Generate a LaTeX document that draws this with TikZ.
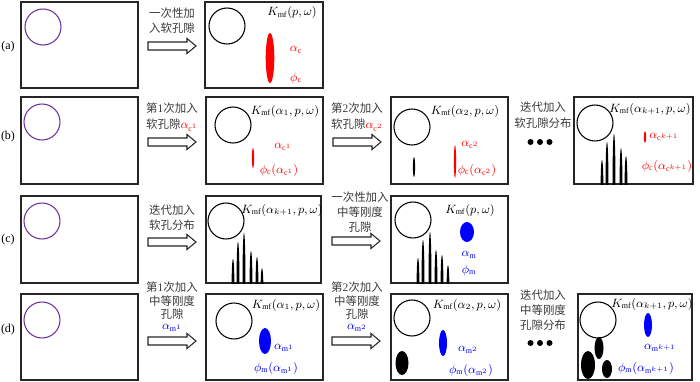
\documentclass[tikz,border=0pt]{standalone}
\usepackage{fontspec}
\setmainfont{Liberation Serif}
\newfontfamily\cjk{Noto Sans CJK SC}
\definecolor{purp}{HTML}{7030A0}
\definecolor{txtg}{HTML}{3A3A3A}
\definecolor{rd}{HTML}{FF0000}
\definecolor{bl}{HTML}{0000FF}
\begin{document}
\begin{tikzpicture}[x=0.75pt,y=-0.75pt,
  frame/.style={draw=black!85,line width=0.9pt},
  pcirc/.style={draw=purp,line width=0.8pt},
  bcirc/.style={draw=black,line width=0.8pt},
  cn/.style={font=\cjk\fontsize{8.6}{9}\selectfont,text=txtg,inner sep=0pt},
  lab/.style={font=\fontsize{9}{10}\selectfont,inner sep=0pt},
  rl/.style={font=\fontsize{9}{10}\selectfont,inner sep=0pt,text=rd},
  bll/.style={font=\fontsize{9}{10}\selectfont,inner sep=0pt,text=bl},
  barrow/.pic={\draw[line width=0.8pt,draw=black!85,fill=white] (-24,-4) -- (15,-4) -- (15,-7.5) -- (24,0) -- (15,7.5) -- (15,4) -- (-24,4) -- cycle;},
  dots/.pic={\fill (-9.5,0) circle (3); \fill (0,0) circle (3); \fill (9.5,0) circle (3);}
]
\useasboundingbox (0,0) rectangle (700,382);

% ---------- row (a)
\node[lab] (la) at (8,47) {(a)};
\draw[frame] (21,2) rectangle (138,88);
\draw[pcirc] (43,27) circle (18);
\node[cn] (ta1) at (172,13) {一次性加};
\node[cn] (ta2) at (172,28) {入软孔隙};
\pic at (172,46) {barrow};
\draw[frame] (205,2) rectangle (323,88);
\draw[bcirc] (227,26) circle (18);
\node[lab] (ka) at (292,13) {$K_{\mathrm{mf}}(p, \omega)$};
\fill[rd] (270,58) ellipse [x radius=4.3, y radius=25];
\node[rl] (aa) at (296,50) {$\alpha_{\mathrm{c}}$};
\node[rl] (pa) at (296,78) {$\phi_{\mathrm{c}}$};

% ---------- row (b)
\node[lab] (lb) at (8,137) {(b)};
\draw[frame] (21,97) rectangle (138,184);
\draw[pcirc] (42,122) circle (18);
\node[cn] (tb1) at (172,108) {第\rmfamily 1\cjk 次加入};
\node[cn] (tb2) at (172,125) {软孔隙\textcolor{rd}{$\alpha_{\mathrm{c}^1}$}};
\pic at (172,142) {barrow};
\draw[frame] (206,97) rectangle (323,184);
\draw[bcirc] (233,125) circle (18);
\node[lab] (kb1) at (285,111) {$K_{\mathrm{mf}}(\alpha_1, p, \omega)$};
\fill[rd] (253,158) ellipse [x radius=1.1, y radius=10];
\node[rl] (ab1) at (283,147) {$\alpha_{\mathrm{c}^1}$};
\node[rl] (pb1) at (279,170) {$\phi_{\mathrm{c}}(\alpha_{\mathrm{c}^1})$};
\node[cn] (tb3) at (357,108) {第\rmfamily 2\cjk 次加入};
\node[cn] (tb4) at (357,125) {软孔隙\textcolor{rd}{$\alpha_{\mathrm{c}^2}$}};
\pic at (357,142) {barrow};
\draw[frame] (391,97) rectangle (508,184);
\draw[bcirc] (412,127) circle (18);
\node[lab] (kb2) at (465,111) {$K_{\mathrm{mf}}(\alpha_2, p, \omega)$};
\fill (414,167) ellipse [x radius=1.1, y radius=10];
\fill[rd] (455,161.5) ellipse [x radius=1.1, y radius=16.5];
\node[rl] (ab2) at (470,145) {$\alpha_{\mathrm{c}^2}$};
\node[rl] (pb2) at (477,170) {$\phi_{\mathrm{c}}(\alpha_{\mathrm{c}^2})$};
\node[cn] (tb5) at (543,107) {迭代加入};
\node[cn] (tb6) at (543,123) {软孔隙分布};
\pic at (540,142) {dots};
\draw[frame] (574,97) rectangle (693,184);
\draw[bcirc] (595,123) circle (18);
\node[lab] (kb3) at (650,109) {$K_{\mathrm{mf}}(\alpha_{k+1}, p, \omega)$};
\fill[rd] (645,137) ellipse [x radius=1.1, y radius=6];
\node[rl] (ab3) at (664,137) {$\alpha_{\mathrm{c}^{k+1}}$};
\node[rl] (pb3) at (667,166) {$\phi_{\mathrm{c}}(\alpha_{\mathrm{c}^{k+1}})$};
\begin{scope}
\clip (574,97) rectangle (693,184);
\foreach \xx/\tt in {602/160,607/142,614/134,621/148,626/156}{
  \fill (\xx,{(\tt+215)/2}) ellipse [x radius=1.4, y radius={(215-\tt)/2}];
}
\end{scope}

% ---------- row (c)
\node[lab] (lc) at (8,240) {(c)};
\draw[frame] (21,196) rectangle (138,283);
\draw[pcirc] (42,221) circle (18);
\node[cn] (tc1) at (172,210) {迭代加入};
\node[cn] (tc2) at (172,225) {软孔分布};
\pic at (172,242) {barrow};
\draw[frame] (206,196) rectangle (321,283);
\draw[bcirc] (226,221) circle (18);
\node[lab] (kc1) at (282,210) {$K_{\mathrm{mf}}(\alpha_{k+1}, p, \omega)$};
\begin{scope}
\clip (206,196) rectangle (321,283);
\foreach \xx/\tt in {233/259,238/242,244/233,251/251,257/257,262/268}{
  \fill (\xx,{(\tt+312)/2}) ellipse [x radius=1.4, y radius={(312-\tt)/2}];
}
\end{scope}
\node[cn] (tc3) at (360,197) {一次性加入};
\node[cn] (tc4) at (360,212) {中等刚度};
\node[cn] (tc5) at (360,227) {孔隙};
\pic at (356,241) {barrow};
\draw[frame] (391,196) rectangle (508,283);
\draw[bcirc] (413,220) circle (18);
\node[lab] (kc2) at (470,210) {$K_{\mathrm{mf}}(p, \omega)$};
\begin{scope}
\clip (391,196) rectangle (508,283);
\foreach \xx/\tt in {418/258,423/240,430/232,436/250,442/255,448/265}{
  \fill (\xx,{(\tt+312)/2}) ellipse [x radius=1.4, y radius={(312-\tt)/2}];
}
\end{scope}
\fill[bl] (467,232) ellipse [x radius=7, y radius=10];
\node[bll] (ac) at (469,255) {$\alpha_{\mathrm{m}}$};
\node[bll] (pc) at (469,270) {$\phi_{\mathrm{m}}$};

% ---------- row (d)
\node[lab] (ld) at (8,330) {(d)};
\draw[frame] (21,294) rectangle (138,380);
\draw[pcirc] (42,320) circle (18);
\node[cn] (td1) at (172,287) {第\rmfamily 1\cjk 次加入};
\node[cn] (td2) at (172,301) {中等刚度};
\node[cn] (td3) at (172,314) {孔隙};
\node[bll] (td4) at (172,328) {$\alpha_{\mathrm{m}^1}$};
\pic at (172,341) {barrow};
\draw[frame] (206,294) rectangle (323,380);
\draw[bcirc] (234,321) circle (18);
\node[lab] (kd1) at (286,305) {$K_{\mathrm{mf}}(\alpha_1, p, \omega)$};
\fill[bl] (265,341) ellipse [x radius=6, y radius=13];
\node[bll] (ad1) at (284,348) {$\alpha_{\mathrm{m}^1}$};
\node[bll] (pd1) at (276,368) {$\phi_{\mathrm{m}}(\alpha_{\mathrm{m}^1})$};
\node[cn] (td5) at (357,287) {第\rmfamily 2\cjk 次加入};
\node[cn] (td6) at (357,301) {中等刚度};
\node[cn] (td7) at (357,314) {孔隙};
\node[bll] (td8) at (357,328) {$\alpha_{\mathrm{m}^2}$};
\pic at (356,341) {barrow};
\draw[frame] (391,294) rectangle (508,380);
\draw[bcirc] (412,318) circle (18);
\node[lab] (kd2) at (467,305) {$K_{\mathrm{mf}}(\alpha_2, p, \omega)$};
\fill[bl] (443,343) ellipse [x radius=4, y radius=13];
\fill (402,363) ellipse [x radius=6.5, y radius=12];
\node[bll] (ad2) at (468,350) {$\alpha_{\mathrm{m}^2}$};
\node[bll] (pd2) at (471,370) {$\phi_{\mathrm{m}}(\alpha_{\mathrm{m}^2})$};
\node[cn] (td9) at (543,295) {迭代加入};
\node[cn] (td10) at (543,310) {中等刚度};
\node[cn] (td11) at (543,325) {孔隙分布};
\pic at (540,343) {dots};
\draw[frame] (578,294) rectangle (692,380);
\draw[bcirc] (598,320) circle (18);
\node[lab] (kd3) at (652,304) {$K_{\mathrm{mf}}(\alpha_{k+1}, p, \omega)$};
\fill[bl] (648,325) ellipse [x radius=4, y radius=12];
\node[bll] (ad3) at (660,348) {$\alpha_{\mathrm{m}^{k+1}}$};
\node[bll] (pd3) at (646,368) {$\phi_{\mathrm{m}}(\alpha_{\mathrm{m}^{k+1}})$};
\fill (599,348) ellipse [x radius=4.5, y radius=11];
\fill (588,365) ellipse [x radius=7, y radius=14];
\fill (607,369) ellipse [x radius=5, y radius=9];
\end{tikzpicture}
\end{document}
